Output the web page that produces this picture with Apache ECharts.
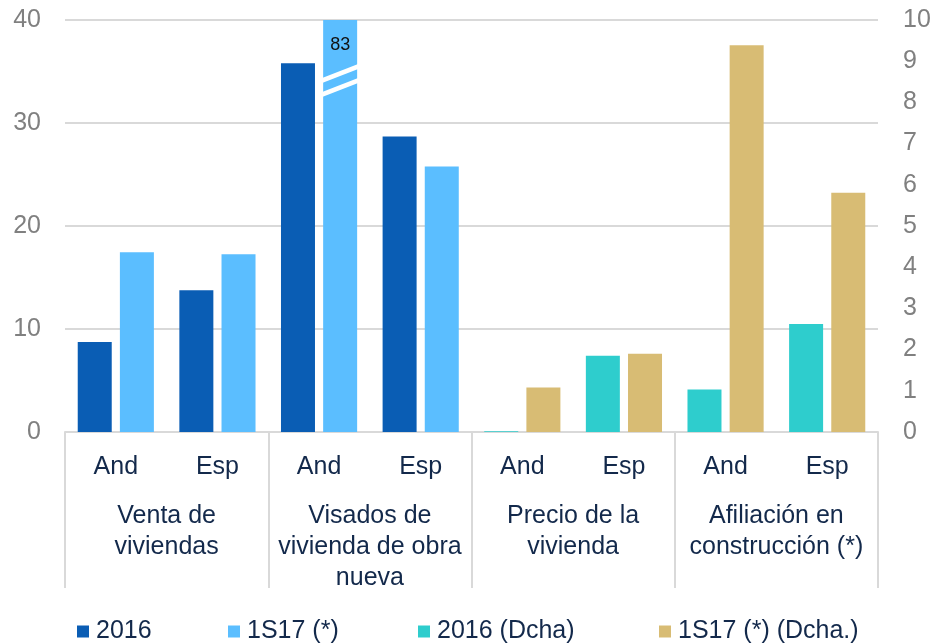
<!DOCTYPE html>
<html>
<head>
<meta charset="utf-8">
<script src="https://cdn.jsdelivr.net/npm/echarts@6/dist/echarts.min.js"></script>
<style>
html,body{margin:0;padding:0;background:#fff;}
#chart{width:930px;height:643px;}
</style>
</head>
<body>
<div id="chart"></div>
<script>
// ---- data ----
const subCategories = ['And', 'Esp', 'And', 'Esp', 'And', 'Esp', 'And', 'Esp'];
const groupCategories = ['Venta de\nviviendas', 'Visados de\nvivienda de obra\nnueva', 'Precio de la\nvivienda', 'Afiliación en\nconstrucción (*)'];
const seriesNames = ['2016', '1S17 (*)', '2016 (Dcha)', '1S17 (*) (Dcha.)'];
const values2016 = [8.74, 13.76, 35.8, 28.68, null, null, null, null];
const values1S17 = [17.45, 17.25, 83, 25.77, null, null, null, null];
const values2016Dcha = [null, null, null, null, 0.02, 1.85, 1.03, 2.62];
const values1S17Dcha = [null, null, null, null, 1.08, 1.90, 9.39, 5.81];
const leftTicks = [0, 40, 10];
const rightTicks = [0, 10, 1];

// ---- styling ----
const FONT = "'Liberation Sans', Arial, sans-serif";
const NAVY = '#13294B';
const GRAY = '#808080';
const LINE = '#d9d9d9';
const COLORS = ['#0A5DB4', '#5BBEFF', '#2ECDCD', '#D8BC74'];
const LEGEND_LEFT = [77, 228, 418, 659];

const chart = echarts.init(document.getElementById('chart'), null, {renderer: 'canvas'});

function withBreakLabel(arr, max) {
  return arr.map(v => (v != null && v > max) ? {
    value: v,
    label: {show: true, position: 'insideTop', distance: 16, formatter: String(v),
            fontSize: 18, color: '#111', fontFamily: FONT}
  } : v);
}

const option = {
  animation: false,
  backgroundColor: '#fff',
  textStyle: {fontFamily: FONT},
  grid: {left: 65, right: 52, top: 20, bottom: 211, containLabel: false, outerBoundsMode: 'none'},
  legend: seriesNames.map((n, i) => ({
    data: [n],
    left: LEGEND_LEFT[i], top: 619, padding: 0,
    itemWidth: 12, itemHeight: 12, itemGap: 0,
    icon: 'rect',
    textStyle: {fontSize: 25, color: NAVY, fontFamily: FONT, padding: [0, 0, 0, 2]}
  })),
  xAxis: [
    {
      type: 'category', data: subCategories, position: 'bottom',
      axisLine: {show: true, lineStyle: {color: LINE, width: 2}},
      axisTick: {show: false},
      axisLabel: {interval: 0, fontSize: 25, color: NAVY, margin: 23, fontFamily: FONT},
      splitLine: {show: false}
    },
    {
      type: 'category', data: subCategories, position: 'bottom', show: false
    },
    {
      type: 'category', data: groupCategories, position: 'bottom',
      axisLine: {show: false},
      axisTick: {show: true, interval: 0, length: 156, lineStyle: {color: LINE, width: 2}},
      axisLabel: {interval: 0, fontSize: 25, color: NAVY, margin: 69, lineHeight: 31, fontFamily: FONT, align: 'center'},
      splitLine: {show: false}
    }
  ],
  yAxis: [
    {
      type: 'value', position: 'left', min: leftTicks[0], max: leftTicks[1], interval: leftTicks[2],
      axisLine: {show: false}, axisTick: {show: false},
      axisLabel: {fontSize: 25, color: GRAY, margin: 24, fontFamily: FONT},
      splitLine: {show: true, lineStyle: {color: LINE, width: 2}}
    },
    {
      type: 'value', position: 'right', min: rightTicks[0], max: rightTicks[1], interval: rightTicks[2],
      axisLine: {show: false}, axisTick: {show: false},
      axisLabel: {fontSize: 25, color: GRAY, margin: 25, fontFamily: FONT},
      splitLine: {show: false}
    }
  ],
  series: [
    {name: seriesNames[0], type: 'bar', xAxisIndex: 0, yAxisIndex: 0, data: values2016,
     barWidth: 34, barGap: '24%', itemStyle: {color: COLORS[0]}, clip: true},
    {name: seriesNames[1], type: 'bar', xAxisIndex: 0, yAxisIndex: 0, data: withBreakLabel(values1S17, leftTicks[1]),
     barWidth: 34, barGap: '24%', itemStyle: {color: COLORS[1]}, clip: true},
    {name: seriesNames[2], type: 'bar', xAxisIndex: 1, yAxisIndex: 1, data: values2016Dcha,
     barWidth: 34, barGap: '24%', itemStyle: {color: COLORS[2]}, clip: true},
    {name: seriesNames[3], type: 'bar', xAxisIndex: 1, yAxisIndex: 1, data: values1S17Dcha,
     barWidth: 34, barGap: '24%', itemStyle: {color: COLORS[3]}, clip: true}
  ]
};
chart.setOption(option);

// Break marks on bars that exceed the left axis maximum
const breakGraphics = [];
const seriesData = chart.getModel().getSeriesByIndex(1).getData();
values1S17.forEach((v, i) => {
  if (v != null && v > leftTicks[1]) {
    const lay = seriesData.getItemLayout(i);
    const x0 = lay.x, x1 = lay.x + lay.width;
    const top = chart.convertToPixel({yAxisIndex: 0}, leftTicks[1]);
    const rise = 14, thick = 5;
    [58, 72].forEach(off => {
      const yl = top + off;
      breakGraphics.push({
        type: 'polygon', silent: true, z: 100,
        shape: {points: [[x0 - 1, yl], [x1 + 1, yl - rise], [x1 + 1, yl - rise + thick], [x0 - 1, yl + thick]]},
        style: {fill: '#fff'}
      });
    });
  }
});
chart.setOption({graphic: breakGraphics});
</script>
</body>
</html>
